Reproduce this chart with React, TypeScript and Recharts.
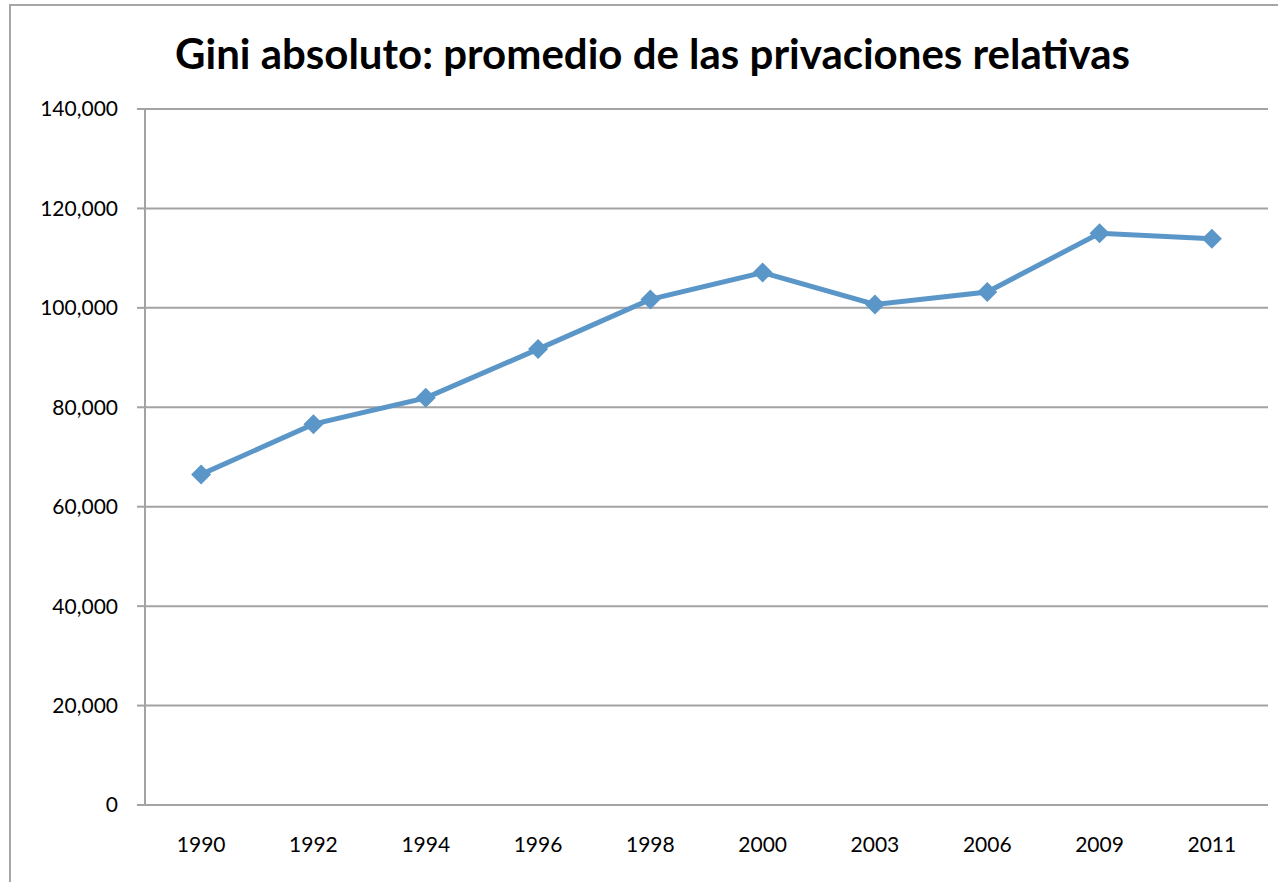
import React from 'react';
import { LineChart, Line, XAxis, YAxis, CartesianGrid } from 'recharts';

const years = ['1990', '1992', '1994', '1996', '1998', '2000', '2003', '2006', '2009', '2011'];
const giniValues = [66500, 76600, 81900, 91700, 101700, 107100, 100700, 103200, 115000, 113900];
const yTicks = [0, 20000, 40000, 60000, 80000, 100000, 120000, 140000];
const boundaryTicks = [0, 1, 2, 3, 4, 5, 6, 7, 8, 9, 10];
const title = 'Gini absoluto: promedio de las privaciones relativas';

const data = years.map((year, i) => ({ year, value: giniValues[i] }));

const LINE_COLOR = '#5b96c8';
const GRID_COLOR = '#a3a3a3';
const FONT = 'Lato, "Open Sans", sans-serif';

const Diamond = (props: any) => {
  const { cx, cy } = props;
  if (cx == null || cy == null) return null;
  const r = 10;
  return (
    <polygon
      points={`${cx},${cy - r} ${cx + r},${cy} ${cx},${cy + r} ${cx - r},${cy}`}
      fill={LINE_COLOR}
      stroke="none"
    />
  );
};

export default function App() {
  return (
    <div style={{ position: 'fixed', left: 0, top: 0, width: 1278, height: 882, overflow: 'hidden', background: '#fff' }}>
      <div
        style={{
          position: 'absolute',
          left: 9,
          top: 4,
          width: 1300,
          height: 900,
          border: '2px solid #a6a6a6',
          boxSizing: 'border-box',
        }}
      />
      <div
        style={{
          position: 'absolute',
          left: 0,
          top: 27,
          width: 1305,
          textAlign: 'center',
          fontFamily: FONT,
          fontWeight: 700,
          fontSize: 42,
          lineHeight: '52px',
          color: '#000',
        }}
      >
        {title}
      </div>
      <div style={{ position: 'absolute', left: 0, top: 0 }}>
        <LineChart width={1278} height={882} data={data} margin={{ top: 109, right: 10, bottom: 0, left: 10 }}>
          <CartesianGrid horizontal vertical={false} stroke={GRID_COLOR} strokeWidth={2} />
          <XAxis
            xAxisId="grid"
            type="number"
            domain={[0, 10]}
            ticks={boundaryTicks}
            height={0}
            tickSize={8}
            tickFormatter={() => ''}
            stroke={GRID_COLOR}
            strokeWidth={2}
            allowDataOverflow
          />
          <XAxis
            xAxisId="cat"
            dataKey="year"
            scale="band"
            height={77}
            axisLine={false}
            tickLine={false}
            tickSize={0}
            tickMargin={32}
            interval={0}
            tick={{ fill: '#000', fontSize: 21, fontFamily: FONT }}
          />
          <YAxis
            domain={[0, 140000]}
            ticks={yTicks}
            width={135}
            tickSize={8}
            tickMargin={19}
            stroke={GRID_COLOR}
            strokeWidth={2}
            interval={0}
            tick={{ fill: '#000', fontSize: 21, fontFamily: FONT }}
            tickFormatter={(v: number) => v.toLocaleString('en-US')}
          />
          <Line
            xAxisId="cat"
            type="linear"
            dataKey="value"
            stroke={LINE_COLOR}
            strokeWidth={5}
            dot={<Diamond />}
            activeDot={false}
            isAnimationActive={false}
          />
        </LineChart>
      </div>
    </div>
  );
}
